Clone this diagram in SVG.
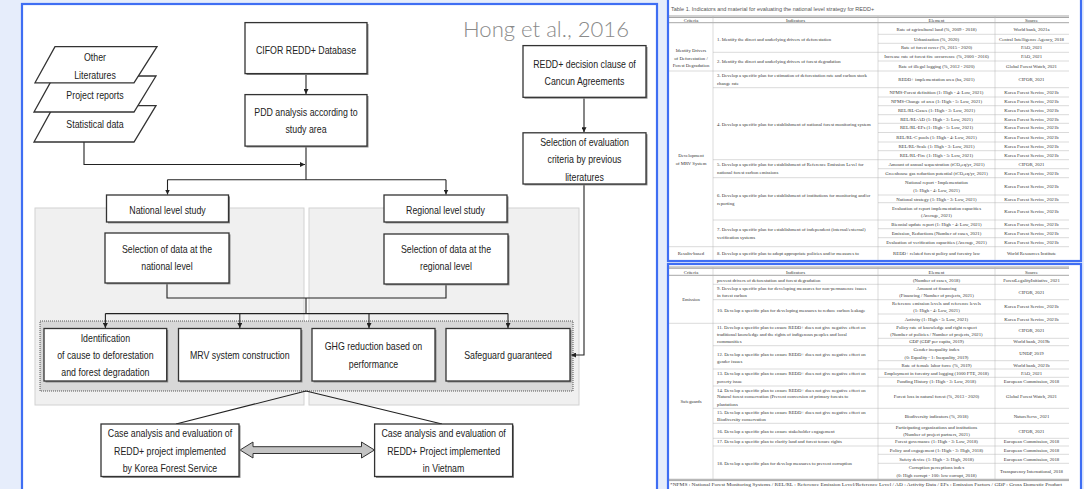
<svg xmlns="http://www.w3.org/2000/svg" width="1084" height="489" viewBox="0 0 1084 489">
<style>
.box{fill:#fff;stroke:#333;stroke-width:1.3}
.shd{fill:#8a8a8a}
.lbl{font-family:"Liberation Sans","DejaVu Sans",sans-serif;font-size:10.5px;fill:#222;text-anchor:middle}
.conn{stroke:#222;stroke-width:1.1;fill:none}
.tt{font-family:"Liberation Serif","DejaVu Serif",serif;font-size:4.75px;fill:#333}
.c{text-anchor:middle}
.tl{stroke:#b4b4b4;stroke-width:0.5}
.th{stroke:#6a6a6a;stroke-width:0.6}
.panel{fill:#fff;stroke:#3f6ef3;stroke-width:2.2}
</style>
<defs>
<marker id="ah" markerWidth="5" markerHeight="5" refX="5" refY="2.5" orient="auto" markerUnits="userSpaceOnUse"><path d="M0,0 L5,2.5 L0,5 z" fill="#222"/></marker>
</defs>
<rect x="0" y="0" width="1084" height="489" fill="#e6edfb"/>
<rect class="panel" x="22" y="4" width="635" height="492"/>
<text x="463" y="36.5" font-family="Lato,'Open Sans',sans-serif" font-weight="300" font-size="22" fill="#8a8a8a" textLength="166" lengthAdjust="spacingAndGlyphs">Hong et al., 2016</text>

<g id="panels">
<rect x="35" y="208" width="269" height="197" fill="#f0f0f0" stroke="#d2d2d2" stroke-width="1"/>
<rect x="309" y="208" width="270" height="197" fill="#f0f0f0" stroke="#d2d2d2" stroke-width="1"/>
<rect x="40" y="321" width="533" height="70" fill="#d8d8d8" stroke="#333" stroke-width="0.8" stroke-dasharray="1 1"/>
</g>

<g id="connectors">
<path class="conn" d="M306,73.6 V94" marker-end="url(#ah)"/>
<path class="conn" d="M84,142 V164.5 H305" marker-end="url(#ah)"/>
<path class="conn" d="M306,146 V179.7"/>
<path class="conn" d="M167.5,179.7 H446"/>
<path class="conn" d="M167.5,179.7 V194.5" marker-end="url(#ah)"/>
<path class="conn" d="M446,179.7 V194.5" marker-end="url(#ah)"/>
<path class="conn" d="M584,97.3 V132.3" marker-end="url(#ah)"/>
<path class="conn" d="M584,184 V355 H571" marker-end="url(#ah)"/>
<path class="conn" d="M167,283 V298 H446 V284"/>
<path class="conn" d="M306,298 V313.6"/>
<path class="conn" d="M105.4,313.6 H508"/>
<path class="conn" d="M105.4,313.6 V328" marker-end="url(#ah)"/>
<path class="conn" d="M239.8,313.6 V328" marker-end="url(#ah)"/>
<path class="conn" d="M369,313.6 V328" marker-end="url(#ah)"/>
<path class="conn" d="M508,313.6 V328" marker-end="url(#ah)"/>
<path class="conn" d="M306,391 L176,424 M306,391 L442,424"/>
<polygon points="240,450 253,442 253,446.7 361.5,446.7 361.5,442 374.5,450 361.5,458 361.5,453.5 253,453.5 253,458" fill="#c4c4c4" stroke="#333" stroke-width="1"/>
</g>

<g id="n-stat"><polygon class="box" points="54,105.7 156,105.7 134,142 34,142"/><g transform="matrix(0.84 0 0 1 15.2 0)"><text class="lbl" x="95" y="127.7">Statistical data</text></g></g>
<g id="n-proj"><polygon class="box" points="54,76 156,76 134,112 34,112"/><g transform="matrix(0.84 0 0 1 15.2 0)"><text class="lbl" x="95" y="99.3">Project reports</text></g></g>
<g id="n-other"><polygon class="box" points="55,46.6 157,46.6 134,82.8 35,82.8"/><g transform="matrix(0.84 0 0 1 15.2 0)"><text class="lbl" x="95" y="61">Other</text><text class="lbl" x="95" y="78.7">Literatures</text></g></g>

<g id="n-cifor"><rect class="shd" x="246.5" y="24" width="122" height="51"/><rect class="box" x="245" y="22.6" width="122" height="51"/><g transform="matrix(0.84 0 0 1 48.96 0)"><text class="lbl" x="306" y="54.4">CIFOR REDD+ Database</text></g></g>
<g id="n-pdd"><rect class="shd" x="246.5" y="96" width="122" height="51.5"/><rect class="box" x="245" y="94.6" width="122" height="51.5"/><g transform="matrix(0.84 0 0 1 48.96 0)"><text class="lbl" x="306" y="116">PDD analysis according to</text><text class="lbl" x="306" y="133.5">study area</text></g></g>
<g id="n-cancun"><rect class="shd" x="524.5" y="47" width="123" height="51.7"/><rect class="box" x="523" y="45.6" width="123" height="51.7"/><g transform="matrix(0.84 0 0 1 93.52 0)"><text class="lbl" x="584.5" y="67.7">REDD+ decision clause of</text><text class="lbl" x="584.5" y="84.7">Cancun Agreements</text></g></g>
<g id="n-criteria"><rect class="shd" x="524.5" y="134.2" width="123" height="51.2"/><rect class="box" x="523" y="132.8" width="123" height="51.2"/><g transform="matrix(0.84 0 0 1 93.52 0)"><text class="lbl" x="584.5" y="145.7">Selection of evaluation</text><text class="lbl" x="584.5" y="163.2">criteria by previous</text><text class="lbl" x="584.5" y="180.7">literatures</text></g></g>
<g id="n-national"><rect class="shd" x="108" y="196.4" width="122" height="27"/><rect class="box" x="106.5" y="195" width="122" height="27"/><g transform="matrix(0.84 0 0 1 26.8 0)"><text class="lbl" x="167.5" y="213.7">National level study</text></g></g>
<g id="n-regional"><rect class="shd" x="385.5" y="196.4" width="123" height="27"/><rect class="box" x="384" y="195" width="123" height="27"/><g transform="matrix(0.84 0 0 1 71.28 0)"><text class="lbl" x="445.5" y="213.7">Regional level study</text></g></g>
<g id="n-natdata"><rect class="shd" x="106.5" y="234.4" width="124" height="50"/><rect class="box" x="105" y="233" width="124" height="50"/><g transform="matrix(0.84 0 0 1 26.72 0)"><text class="lbl" x="167" y="253">Selection of data at the</text><text class="lbl" x="167" y="269.7">national level</text></g></g>
<g id="n-regdata"><rect class="shd" x="385.5" y="235.4" width="124" height="50"/><rect class="box" x="384" y="234" width="124" height="50"/><g transform="matrix(0.84 0 0 1 71.36 0)"><text class="lbl" x="446" y="253.5">Selection of data at the</text><text class="lbl" x="446" y="270.2">regional level</text></g></g>
<g id="n-cause"><rect class="shd" x="45.5" y="330" width="122.7" height="52.5"/><rect class="box" x="44" y="328.5" width="122.7" height="52.5"/><g transform="matrix(0.84 0 0 1 16.864 0)"><text class="lbl" x="105.4" y="341.7">Identification</text><text class="lbl" x="105.4" y="359.2">of cause to deforestation</text><text class="lbl" x="105.4" y="376.5">and forest degradation</text></g></g>
<g id="n-mrv"><rect class="shd" x="180" y="330" width="122.5" height="52.5"/><rect class="box" x="178.5" y="328.5" width="122.5" height="52.5"/><g transform="matrix(0.84 0 0 1 38.368 0)"><text class="lbl" x="239.8" y="359.2">MRV system construction</text></g></g>
<g id="n-ghg"><rect class="shd" x="313.5" y="330" width="123" height="52.5"/><rect class="box" x="312" y="328.5" width="123" height="52.5"/><g transform="matrix(0.84 0 0 1 59.76 0)"><text class="lbl" x="373.5" y="350.5">GHG reduction based on</text><text class="lbl" x="373.5" y="367.7">performance</text></g></g>
<g id="n-safe"><rect class="shd" x="447.5" y="330" width="124" height="52.5"/><rect class="box" x="446" y="328.5" width="124" height="52.5"/><g transform="matrix(0.84 0 0 1 81.28 0)"><text class="lbl" x="508" y="359.2">Safeguard guaranteed</text></g></g>
<g id="n-korea"><rect class="shd" x="102.5" y="425.4" width="138" height="52.5"/><rect class="box" x="101" y="424" width="138" height="52.5"/><g transform="matrix(0.84 0 0 1 27.2 0)"><text class="lbl" x="170" y="437.3">Case analysis and evaluation of</text><text class="lbl" x="170" y="454.7">REDD+ project implemented</text><text class="lbl" x="170" y="472.4">by Korea Forest Service</text></g></g>
<g id="n-vietnam"><rect class="shd" x="376" y="425.4" width="138" height="52.5"/><rect class="box" x="374.6" y="424" width="138" height="52.5"/><g transform="matrix(0.84 0 0 1 70.976 0)"><text class="lbl" x="443.6" y="437.3">Case analysis and evaluation of</text><text class="lbl" x="443.6" y="454.7">REDD+ Project implemented</text><text class="lbl" x="443.6" y="472.4">in Vietnam</text></g></g>

<!-- Table 1 -->
<g id="table1">
<rect class="panel" x="668" y="-3" width="413" height="264"/>
<text x="671" y="10.5" font-family="'Liberation Sans',sans-serif" font-size="5.5" fill="#555">Table 1. Indicators and material for evaluating the national level strategy for REDD+</text>
<g>
<line class="th" x1="669" y1="16" x2="1069" y2="16"/><line class="th" x1="669" y1="17.5" x2="1069" y2="17.5"/><line class="th" x1="669" y1="22.7" x2="1069" y2="22.7"/>
<line class="tl" x1="878" y1="34.3" x2="1069" y2="34.3"/><line class="tl" x1="878" y1="43.3" x2="1069" y2="43.3"/><line class="tl" x1="713" y1="52.3" x2="1069" y2="52.3"/><line class="tl" x1="878" y1="61" x2="1069" y2="61"/><line class="tl" x1="669" y1="71" x2="1069" y2="71"/><line class="tl" x1="713" y1="87.7" x2="1069" y2="87.7"/><line class="tl" x1="878" y1="97" x2="1069" y2="97"/><line class="tl" x1="878" y1="105.7" x2="1069" y2="105.7"/><line class="tl" x1="878" y1="114.7" x2="1069" y2="114.7"/><line class="tl" x1="878" y1="123.3" x2="1069" y2="123.3"/><line class="tl" x1="878" y1="132.5" x2="1069" y2="132.5"/><line class="tl" x1="878" y1="142" x2="1069" y2="142"/><line class="tl" x1="878" y1="150.7" x2="1069" y2="150.7"/><line class="tl" x1="713" y1="159.7" x2="1069" y2="159.7"/><line class="tl" x1="878" y1="168.7" x2="1069" y2="168.7"/><line class="tl" x1="713" y1="177.7" x2="1069" y2="177.7"/><line class="tl" x1="878" y1="195" x2="1069" y2="195"/><line class="tl" x1="878" y1="202.7" x2="1069" y2="202.7"/><line class="tl" x1="713" y1="220" x2="1069" y2="220"/><line class="tl" x1="878" y1="228.7" x2="1069" y2="228.7"/><line class="tl" x1="878" y1="237.7" x2="1069" y2="237.7"/><line class="tl" x1="669" y1="246.7" x2="1069" y2="246.7"/>
<line class="tl" x1="713" y1="16" x2="713" y2="260"/><line class="tl" x1="878" y1="16" x2="878" y2="260"/><line class="tl" x1="995" y1="16" x2="995" y2="260"/>
</g>
<g class="tt">
<text class="c" x="691" y="21.5">Criteria</text><text class="c" x="795.5" y="21.5">Indicators</text><text class="c" x="936.5" y="21.5">Element</text><text class="c" x="1031.5" y="21.5">Source</text>
<text class="c" x="936.5" y="30.8">Rate of agricultural land (%, 2009 - 2018)</text><text class="c" x="1031.5" y="30.8">World bank, 2021a</text>
<text class="c" x="936.5" y="40.5">Urbanization (%, 2020)</text><text class="c" x="1031.5" y="40.5">Central Intelligence Agency, 2018</text>
<text class="c" x="936.5" y="49.2">Rate of forest cover (%, 2015 - 2020)</text><text class="c" x="1031.5" y="49.2">FAO, 2021</text>
<text class="c" x="936.5" y="58.2">Increase rate of forest fire occurrence (%, 2000 - 2016)</text><text class="c" x="1031.5" y="58.2">FAO, 2021</text>
<text class="c" x="936.5" y="67.8">Rate of illegal logging (%, 2012 - 2020)</text><text class="c" x="1031.5" y="67.8">Global Forest Watch, 2021</text>
<text x="717" y="40.5">1. Identify the direct and underlying drivers of deforestation</text>
<text x="717" y="63">2. Identify the direct and underlying drivers of forest degradation</text>
<text class="c" x="691" y="51.5">Identify Drivers</text><text class="c" x="691" y="59.5">of Deforestation /</text><text class="c" x="691" y="67.2">Forest Degradation</text>
<text x="717" y="76.5">3. Develop a specific plan for estimation of deforestation rate and carbon stock</text><text x="717" y="84.8">change rate</text>
<text class="c" x="936.5" y="81.2">REDD+ implementation area (ha, 2021)</text><text class="c" x="1031.5" y="81.2">CIFOR, 2021</text>
<text class="c" x="936.5" y="93.8">NFMS-Forest definition (1: High - 4: Low, 2021)</text><text class="c" x="1031.5" y="93.8">Korea Forest Service, 2021b</text>
<text class="c" x="936.5" y="102.8">NFMS-Change of area (1: High - 5: Low, 2021)</text><text class="c" x="1031.5" y="102.8">Korea Forest Service, 2021b</text>
<text class="c" x="936.5" y="111.5">REL/RL-Gases (1: High - 3: Low, 2021)</text><text class="c" x="1031.5" y="111.5">Korea Forest Service, 2021b</text>
<text class="c" x="936.5" y="120.5">REL/RL-AD (1: High - 3: Low, 2021)</text><text class="c" x="1031.5" y="120.5">Korea Forest Service, 2021b</text>
<text class="c" x="936.5" y="129.2">REL/RL-EFs (1: High - 5: Low, 2021)</text><text class="c" x="1031.5" y="129.2">Korea Forest Service, 2021b</text>
<text class="c" x="936.5" y="139">REL/RL-C pools (1: High - 4: Low, 2021)</text><text class="c" x="1031.5" y="139">Korea Forest Service, 2021b</text>
<text class="c" x="936.5" y="148.2">REL/RL-Scale (1: High - 3: Low, 2021)</text><text class="c" x="1031.5" y="148.2">Korea Forest Service, 2021b</text>
<text class="c" x="936.5" y="156.8">REL/RL-Fire (1: High - 5: Low, 2021)</text><text class="c" x="1031.5" y="156.8">Korea Forest Service, 2021b</text>
<text x="717" y="125.8">4. Develop a specific plan for establishment of national forest monitoring system</text>
<text class="c" x="936.5" y="165.8">Amount of annual sequestration (tCO₂eq/yr, 2021)</text><text class="c" x="1031.5" y="165.8">CIFOR, 2021</text>
<text class="c" x="936.5" y="174.8">Greenhouse gas reduction potential (tCO₂eq/yr, 2021)</text><text class="c" x="1031.5" y="174.8">Korea Forest Service, 2021b</text>
<text x="717" y="165.8">5. Develop a specific plan for establishment of Reference Emission Level for</text><text x="717" y="174.2">national forest carbon emissions</text>
<text class="c" x="936.5" y="183.8">National report - Implementation</text><text class="c" x="936.5" y="192.2">(1: High - 4: Low, 2021)</text><text class="c" x="1031.5" y="188.2">Korea Forest Service, 2021b</text>
<text class="c" x="936.5" y="200.5">National strategy (1: High - 3: Low, 2021)</text><text class="c" x="1031.5" y="200.5">Korea Forest Service, 2021b</text>
<text class="c" x="936.5" y="209.8">Evaluation of report implementation capacities</text><text class="c" x="936.5" y="217.2">(Average, 2021)</text><text class="c" x="1031.5" y="213.2">Korea Forest Service, 2021b</text>
<text x="717" y="196.5">6. Develop a specific plan for establishment of institutions for monitoring and/or</text><text x="717" y="204.8">reporting</text>
<text class="c" x="936.5" y="225.8">Biennial update report (1: High - 4: Low, 2021)</text><text class="c" x="1031.5" y="225.8">Korea Forest Service, 2021b</text>
<text class="c" x="936.5" y="234.8">Emission, Reductions (Number of cases, 2021)</text><text class="c" x="1031.5" y="234.8">Korea Forest Service, 2021b</text>
<text class="c" x="936.5" y="243.8">Evaluation of verification capacities (Average, 2021)</text><text class="c" x="1031.5" y="243.8">Korea Forest Service, 2021b</text>
<text x="717" y="231">7. Develop a specific plan for establishment of independent (internal/external)</text><text x="717" y="239">verification systems</text>
<text class="c" x="691" y="157.2">Development</text><text class="c" x="691" y="164.8">of MRV System</text>
<text class="c" x="691" y="255.2">Results-based</text><text x="717" y="255.2">8. Develop a specific plan to adopt appropriate policies and/or measures to</text><text class="c" x="936.5" y="255.2">REDD+ related forest policy and forestry law</text><text class="c" x="1031.5" y="255.2">World Resources Institute</text>
</g>
</g>

<!-- Table 2 -->
<g id="table2">
<rect class="panel" x="668" y="264" width="413" height="230"/>
<g>
<line class="th" x1="669" y1="267" x2="1069" y2="267"/><line class="th" x1="669" y1="268.3" x2="1069" y2="268.3"/><line class="th" x1="669" y1="275.3" x2="1069" y2="275.3"/>
<line class="tl" x1="713" y1="284.3" x2="1069" y2="284.3"/><line class="tl" x1="713" y1="299.7" x2="1069" y2="299.7"/><line class="tl" x1="878" y1="314" x2="1069" y2="314"/><line class="tl" x1="669" y1="323.3" x2="1069" y2="323.3"/><line class="tl" x1="878" y1="338.3" x2="1069" y2="338.3"/><line class="tl" x1="713" y1="345.7" x2="1069" y2="345.7"/><line class="tl" x1="878" y1="360.7" x2="1069" y2="360.7"/><line class="tl" x1="713" y1="369" x2="1069" y2="369"/><line class="tl" x1="878" y1="377.3" x2="1069" y2="377.3"/><line class="tl" x1="713" y1="386" x2="1069" y2="386"/><line class="tl" x1="713" y1="408.3" x2="1069" y2="408.3"/><line class="tl" x1="713" y1="423.3" x2="1069" y2="423.3"/><line class="tl" x1="713" y1="438.3" x2="1069" y2="438.3"/><line class="tl" x1="713" y1="446" x2="1069" y2="446"/><line class="tl" x1="878" y1="454.3" x2="1069" y2="454.3"/><line class="tl" x1="878" y1="463.3" x2="1069" y2="463.3"/>
<line class="th" x1="669" y1="479.3" x2="1069" y2="479.3"/><line class="th" x1="669" y1="480.6" x2="1069" y2="480.6"/>
<line class="tl" x1="713" y1="267" x2="713" y2="479.3"/><line class="tl" x1="878" y1="267" x2="878" y2="479.3"/><line class="tl" x1="995" y1="267" x2="995" y2="479.3"/>
</g>
<g class="tt">
<text class="c" x="691" y="273.5">Criteria</text><text class="c" x="795.5" y="273.5">Indicators</text><text class="c" x="936.5" y="273.5">Element</text><text class="c" x="1031.5" y="273.5">Source</text>
<text x="717" y="281.8">prevent drivers of deforestation and forest degradation</text><text class="c" x="936.5" y="281.8">(Number of cases, 2018)</text><text class="c" x="1031.5" y="281.8">ForestLegalityInitiative, 2021</text>
<text x="717" y="289.8">9. Develop a specific plan for developing measures for non-permanence issues</text><text x="717" y="297.2">in forest carbon</text>
<text class="c" x="936.5" y="290.2">Amount of financing</text><text class="c" x="936.5" y="296.8">(Financing / Number of projects, 2021)</text><text class="c" x="1031.5" y="293.5">CIFOR, 2021</text>
<text x="717" y="312.2">10. Develop a specific plan for developing measures to reduce carbon leakage</text>
<text class="c" x="936.5" y="304.5">Reference emission levels and reference levels</text><text class="c" x="936.5" y="311.8">(1: High - 4: Low, 2021)</text><text class="c" x="1031.5" y="308.2">Korea Forest Service, 2021b</text>
<text class="c" x="936.5" y="320.5">Activity (1: High - 5: Low, 2021)</text><text class="c" x="1031.5" y="320.5">Korea Forest Service, 2021b</text>
<text class="c" x="691" y="301.2">Emission</text>
<text x="717" y="328.8">11. Develop a specific plan to ensure REDD+ does not give negative effect on</text><text x="717" y="335.8">traditional knowledge and the rights of indigenous peoples and local</text><text x="717" y="343.2">communities</text>
<text class="c" x="936.5" y="328.5">Policy rate of knowledge and right respect</text><text class="c" x="936.5" y="335.5">(Number of policies / Number of projects, 2021)</text><text class="c" x="1031.5" y="331.8">CIFOR, 2021</text>
<text class="c" x="936.5" y="343.2">GDP (GDP per capita, 2019)</text><text class="c" x="1031.5" y="343.2">World bank, 2019b</text>
<text x="717" y="355.8">12. Develop a specific plan to ensure REDD+ does not give negative effect on</text><text x="717" y="363.2">gender issues</text>
<text class="c" x="936.5" y="351.2">Gender inequality index</text><text class="c" x="936.5" y="358.5">(0: Equality - 1: Inequality, 2019)</text><text class="c" x="1031.5" y="354.8">UNDP, 2019</text>
<text class="c" x="936.5" y="366.5">Rate of female labor force (%, 2019)</text><text class="c" x="1031.5" y="366.5">World bank, 2021b</text>
<text x="717" y="374.8">13. Develop a specific plan to ensure REDD+ does not give negative effect on</text><text x="717" y="382.5">poverty issue</text>
<text class="c" x="936.5" y="374.8">Employment in forestry and logging (1000 FTE, 2018)</text><text class="c" x="1031.5" y="374.8">FAO, 2021</text>
<text class="c" x="936.5" y="383.2">Funding History (1: High - 3: Low, 2018)</text><text class="c" x="1031.5" y="383.2">European Commission, 2018</text>
<text x="717" y="391.5">14. Develop a specific plan to ensure REDD+ does not give negative effect on</text><text x="717" y="398.2">Natural forest conservation (Prevent conversion of primary forests to</text><text x="717" y="405.5">plantations</text>
<text class="c" x="936.5" y="398.2">Forest loss in natural forest (%, 2013 - 2020)</text><text class="c" x="1031.5" y="398.2">Global Forest Watch, 2021</text>
<text x="717" y="414.2">15. Develop a specific plan to ensure REDD+ does not give negative effect on</text><text x="717" y="420.8">Biodiversity conservation</text>
<text class="c" x="936.5" y="417.5">Biodiversity indicators (%, 2018)</text><text class="c" x="1031.5" y="417.5">NatureServe, 2021</text>
<text class="c" x="691" y="403.2">Safeguards</text>
<text x="717" y="432.5">16. Develop a specific plan to ensure stakeholder engagement</text>
<text class="c" x="936.5" y="428.5">Participating organizations and institutions</text><text class="c" x="936.5" y="435.8">(Number of project partners, 2021)</text><text class="c" x="1031.5" y="432.5">CIFOR, 2021</text>
<text x="717" y="443.2">17. Develop a specific plan to clarify land and forest tenure rights</text><text class="c" x="936.5" y="443.2">Forest governance (1: High - 3: Low, 2018)</text><text class="c" x="1031.5" y="443.2">European Commission, 2018</text>
<text class="c" x="936.5" y="451.8">Policy and engagement (1: High - 3: High, 2018)</text><text class="c" x="1031.5" y="451.8">European Commission, 2018</text>
<text class="c" x="936.5" y="460.5">Safety device (1: High - 3: High, 2018)</text><text class="c" x="1031.5" y="460.5">European Commission, 2018</text>
<text x="717" y="464.8">18. Develop a specific plan for develop measures to prevent corruption</text>
<text class="c" x="936.5" y="469.2">Corruption perceptions index</text><text class="c" x="936.5" y="476.5">(0: High corrupt - 100: low corrupt, 2018)</text><text class="c" x="1031.5" y="473.2">Transparency International, 2018</text>
<text x="670" y="486" textLength="392" lengthAdjust="spacingAndGlyphs">*NFMS : National Forest Monitoring Systems / REL/RL : Reference Emission Level/Reference Level / AD : Activity Data / EFs : Emission Factors / GDP : Gross Domestic Product</text>
</g>
</g>
</svg>
